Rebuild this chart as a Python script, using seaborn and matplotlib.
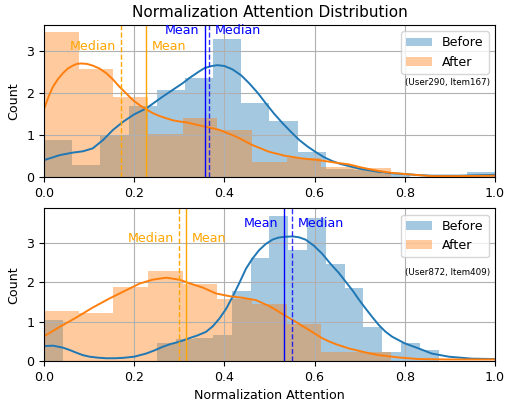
import numpy as np
import pandas as pd
import matplotlib
matplotlib.use("Agg")
import matplotlib.pyplot as plt
import seaborn as sns

plt.rcParams["font.size"] = 9.1

# histogram bin heights (density-like values)
before_top = [0.90, 0.30, 0.98, 1.70, 2.07, 2.37, 3.29, 1.78, 1.34, 0.61,
              0.20, 0.18, 0.08, 0.0, 0.0, 0.12]
after_top = [3.45, 2.57, 1.91, 1.03, 1.42, 1.12, 0.37, 0.47, 0.24, 0.23,
             0.0, 0.0, 0.0]
before_bot = [1.04, 0.0, 0.0, 0.0, 0.0, 0.0, 0.45, 0.55, 0.58, 0.66, 1.79, 2.61,
              3.70, 2.83, 3.65, 2.48, 1.87, 0.87, 0.24, 0.46, 0.28, 0.0, 0.0, 0.0]
after_bot = [1.28, 1.23, 1.88, 2.29, 1.97, 1.57, 1.46, 0.94, 0.24, 0.24,
             0.0, 0.0, 0.0]

# kde curves
kde_x_bt = [0.0, 0.035, 0.064, 0.086, 0.108, 0.131, 0.153, 0.175, 0.2, 0.2265,
            0.263, 0.3075, 0.322, 0.344, 0.356, 0.372, 0.385, 0.4, 0.418, 0.437,
            0.455, 0.474, 0.492, 0.51, 0.529, 0.548, 0.566, 0.585, 0.603, 0.621,
            0.639, 0.657, 0.676, 0.698, 0.72, 0.743, 0.77, 0.8, 0.83, 0.86,
            0.92, 1.0]
kde_y_bt = [0.41, 0.53, 0.59, 0.62, 0.69, 0.89, 1.13, 1.32, 1.50, 1.64,
            1.92, 2.24, 2.36, 2.52, 2.60, 2.65, 2.67, 2.65, 2.57, 2.43,
            2.24, 2.01, 1.76, 1.52, 1.29, 1.08, 0.89, 0.73, 0.60, 0.48,
            0.39, 0.32, 0.27, 0.21, 0.17, 0.13, 0.10, 0.08, 0.055, 0.04,
            0.04, 0.06]
kde_x_at = [0.0, 0.01, 0.02, 0.031, 0.042, 0.053, 0.064, 0.073, 0.082, 0.095,
            0.108, 0.123, 0.138, 0.152, 0.167, 0.182, 0.197, 0.212, 0.2265,
            0.241, 0.256, 0.27, 0.285, 0.3, 0.315, 0.344, 0.389, 0.426, 0.462,
            0.499, 0.536, 0.573, 0.61, 0.647, 0.676, 0.698, 0.72, 0.743, 0.77,
            0.8, 0.86, 0.92, 1.0]
kde_y_at = [1.62, 1.92, 2.16, 2.34, 2.48, 2.59, 2.66, 2.70, 2.71, 2.70,
            2.66, 2.59, 2.48, 2.34, 2.16, 2.00, 1.84, 1.72, 1.62,
            1.53, 1.46, 1.41, 1.36, 1.33, 1.31, 1.24, 1.13, 0.97, 0.77,
            0.61, 0.51, 0.45, 0.41, 0.35, 0.31, 0.25, 0.20, 0.15, 0.11,
            0.08, 0.03, 0.03, 0.04]
kde_x_bb = [0.0, 0.02, 0.042, 0.057, 0.072, 0.086, 0.101, 0.12, 0.138, 0.157,
            0.175, 0.2, 0.2265, 0.245, 0.263, 0.28, 0.30, 0.322, 0.34, 0.359,
            0.374, 0.389, 0.404, 0.418, 0.433, 0.448, 0.462, 0.477, 0.492,
            0.507, 0.52, 0.5325, 0.551, 0.565, 0.58, 0.598, 0.617, 0.635,
            0.654, 0.669, 0.684, 0.698, 0.713, 0.728, 0.743, 0.757, 0.772,
            0.8, 0.831, 0.86, 0.898, 0.949, 1.0]
kde_y_bb = [0.38, 0.39, 0.34, 0.28, 0.21, 0.15, 0.11, 0.085, 0.07, 0.07,
            0.08, 0.11, 0.19, 0.27, 0.36, 0.43, 0.49, 0.58, 0.65, 0.74,
            0.88, 1.08, 1.33, 1.63, 1.98, 2.35, 2.60, 2.82, 2.98,
            3.09, 3.14, 3.16, 3.17, 3.15, 3.09, 2.94, 2.73, 2.48,
            2.24, 2.02, 1.80, 1.57, 1.34, 1.12, 0.91, 0.75, 0.62,
            0.45, 0.32, 0.19, 0.11, 0.06, 0.05]
kde_x_ab = [0.0, 0.035, 0.072, 0.108, 0.145, 0.182, 0.212, 0.241, 0.271, 0.30,
            0.33, 0.352, 0.381, 0.411, 0.44, 0.47, 0.499, 0.516, 0.5325, 0.558,
            0.573, 0.588, 0.603, 0.617, 0.632, 0.647, 0.676, 0.698, 0.72, 0.743,
            0.765, 0.787, 0.831, 0.89, 1.0]
kde_y_ab = [0.63, 0.87, 1.11, 1.36, 1.59, 1.80, 1.97, 2.07, 2.12, 2.07,
            1.95, 1.87, 1.72, 1.65, 1.61, 1.55, 1.40, 1.29, 1.17, 1.00,
            0.89, 0.79, 0.68, 0.58, 0.50, 0.43, 0.32, 0.26, 0.20, 0.15,
            0.12, 0.09, 0.05, 0.04, 0.04]

# mean / median of each series
stats_top = {"before": (0.356, 0.367), "after": (0.2265, 0.171)}
stats_bot = {"before": (0.5325, 0.550), "after": (0.316, 0.300)}
pairs = ["(User290, Item167)", "(User872, Item409)"]


def bar_hist(ax, heights, color, label):
    edges = np.linspace(0, 1, len(heights) + 1)
    df = pd.DataFrame({"x": (edges[:-1] + edges[1:]) / 2, "w": heights})
    sns.histplot(data=df, x="x", weights="w", bins=list(edges), ax=ax,
                 color=color, alpha=0.4, linewidth=0, label=label)


fig = plt.figure(figsize=(5.06, 4.05), dpi=100)
ax1 = fig.add_axes([0.087, 0.562, 0.891, 0.376])
ax2 = fig.add_axes([0.087, 0.1086, 0.891, 0.377])

panels = [
    (ax1, before_top, after_top, kde_x_bt, kde_y_bt, kde_x_at, kde_y_at, stats_top, pairs[0]),
    (ax2, before_bot, after_bot, kde_x_bb, kde_y_bb, kde_x_ab, kde_y_ab, stats_bot, pairs[1]),
]

for ax, hb, ha, bx, by, axx, ay, st, pair in panels:
    bar_hist(ax, hb, "#1f77b4", "Before")
    bar_hist(ax, ha, "#ff7f0e", "After")
    sns.lineplot(x=bx, y=by, ax=ax, color="#1f77b4", lw=1.4)
    sns.lineplot(x=axx, y=ay, ax=ax, color="#ff7f0e", lw=1.4)

    bmean, bmed = st["before"]
    amean, amed = st["after"]
    ax.axvline(bmean, color="blue", lw=1)
    ax.axvline(bmed, color="blue", lw=1, ls="--", alpha=0.8)
    ax.axvline(amean, color="orange", lw=1)
    ax.axvline(amed, color="orange", lw=1, ls="--")
    ax.text(bmean - 0.012, 3.5, "Mean", color="blue", ha="right", va="center")
    ax.text(bmed + 0.012, 3.5, "Median", color="blue", ha="left", va="center")
    ax.text(amean + 0.012, 3.12, "Mean", color="orange", ha="left", va="center")
    ax.text(amed - 0.012, 3.12, "Median", color="orange", ha="right", va="center")

    ax.set_xlim(0, 1)
    ax.set_xticks([0.0, 0.2, 0.4, 0.6, 0.8, 1.0])
    ax.grid(True)
    ax.set_ylabel("Count")
    ax.set_xlabel("")
    ax.legend(loc="upper right")
    ax.text(0.8, 2.25, pair, fontsize=6.3, ha="left", va="center")

ax1.set_title("Normalization Attention Distribution", fontsize=11)
ax2.set_xlabel("Normalization Attention")

fig.savefig("out.png", dpi=100)
